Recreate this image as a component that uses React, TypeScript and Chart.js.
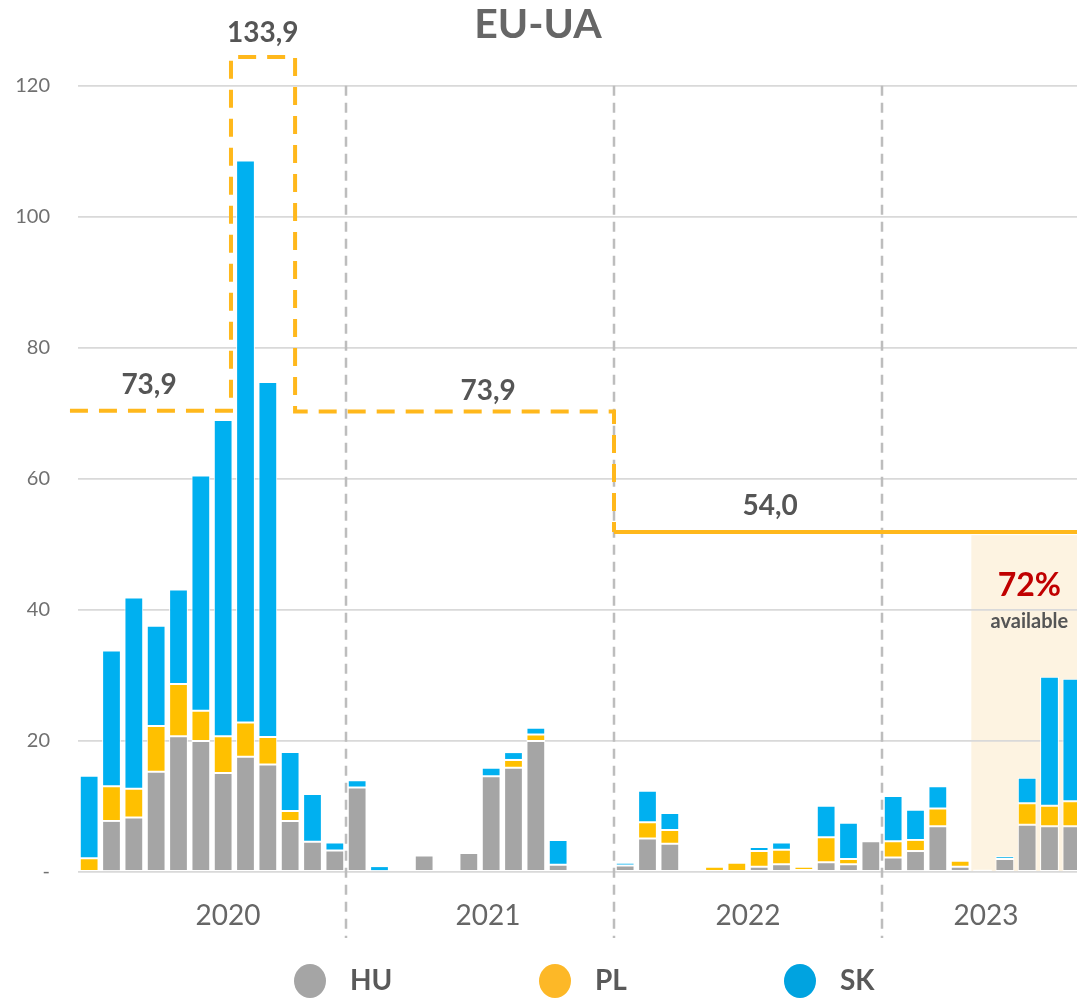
import React, { useEffect, useRef } from 'react';
import { Chart, registerables } from 'chart.js';

Chart.register(...registerables);

// ---------- data ----------
const YEARS = ['2020', '2021', '2022', '2023'];
const MONTHS_IN_YEAR = [12, 12, 12, 9];
const MONTH_NAMES = ['Jan', 'Feb', 'Mar', 'Apr', 'May', 'Jun', 'Jul', 'Aug', 'Sep', 'Oct', 'Nov', 'Dec'];

const HU = [
  0, 7.8, 8.3, 15.3, 20.7, 20.0, 15.1, 17.6, 16.4, 7.8, 4.6, 3.3,
  12.9, 0, 0.3, 2.5, 0.3, 2.9, 14.6, 15.9, 20.0, 1.1, 0.4, 0,
  1.0, 5.1, 4.3, 0, 0, 0, 0.8, 1.2, 0.3, 1.5, 1.2, 4.7,
  2.2, 3.2, 7.0, 0.8, 0.4, 2.0, 7.2, 7.0, 7.0,
];
const PL = [
  2.1, 5.3, 4.4, 7.0, 8.0, 4.6, 5.6, 5.2, 4.2, 1.5, 0, 0,
  0, 0, 0, 0, 0, 0, 0, 1.2, 1.0, 0, 0, 0.3,
  0, 2.5, 2.1, 0, 0.8, 1.4, 2.4, 2.2, 0.5, 3.8, 0.8, 0,
  2.5, 1.7, 2.7, 0.9, 0, 0, 3.3, 3.1, 3.8,
];
const SK = [
  12.6, 20.7, 29.2, 15.3, 14.4, 35.9, 48.3, 85.8, 54.2, 9.0, 7.3, 1.2,
  1.1, 0.9, 0, 0, 0, 0, 1.3, 1.2, 1.0, 3.8, 0, 0,
  0.4, 4.8, 2.6, 0, 0, 0, 0.6, 1.1, 0, 4.8, 5.5, 0,
  6.9, 4.6, 3.4, 0, 0, 0.4, 3.9, 19.7, 18.7,
];
const SERIES_NAMES = ['HU', 'PL', 'SK'];
const Y_TICKS = [0, 20, 40, 60, 80, 100, 120];

// quota limits (category index, value)
const QUOTA_DASHED = [
  [-0.86, 70.4], [6.35, 70.4], [6.35, 124.4], [9.22, 124.4],
  [9.22, 70.3], [23.5, 70.3], [23.5, 51.9],
];
const QUOTA_SOLID_START = 23.5;
const QUOTA_SOLID_VALUE = 51.9;
const QUOTA_TEXTS = ['73,9', '133,9', '73,9', '54,0'];
const AVAILABLE_PCT = '72%';
const AVAILABLE_TEXT = 'available';
const AVAILABLE_FROM = 39.5;
const TITLE = 'EU-UA';

const CATEGORIES: string[] = [];
YEARS.forEach((y, i) => {
  for (let m = 0; m < MONTHS_IN_YEAR[i]; m++) CATEGORIES.push(MONTH_NAMES[m] + ' ' + y);
});

// ---------- layout / style ----------
const COLORS = ['#a5a5a5', '#ffc000', '#00b0f0'];
const LEGEND_COLORS = ['#a5a5a5', '#fdb827', '#00a3e0'];
const QUOTA_COLOR = '#ffb81c';
const TEXT_DARK = '#555555';
const QUOTA_TEXT_POS = [[2.68, 74.3], [7.77, 128.0], [17.86, 73.4], [30.49, 55.9]];
const YEAR_LABEL_POS = [6.22, 17.86, 29.5, 40.16];
const DIVIDER_POS = [11.5, 23.5, 35.5];
const LEGEND_X = [310, 555, 800];

const overlay = {
  id: 'overlay',
  beforeDraw(chart: any) {
    const { ctx, chartArea, scales } = chart;
    const x = scales.x, y = scales.y;
    ctx.save();
    ctx.fillStyle = '#fdf3e1';
    const x0 = x.getPixelForValue(AVAILABLE_FROM);
    const yTop = y.getPixelForValue(51.4);
    ctx.fillRect(x0, yTop, chartArea.right - x0, y.getPixelForValue(0) - yTop);
    ctx.restore();
  },
  beforeDatasetsDraw(chart: any) {
    const { ctx, chartArea, scales } = chart;
    const x = scales.x, y = scales.y;
    ctx.save();
    ctx.strokeStyle = '#bdbdbd';
    ctx.lineWidth = 2.5;
    ctx.setLineDash([10, 7]);
    DIVIDER_POS.forEach((p) => {
      const px = Math.round(x.getPixelForValue(p));
      ctx.beginPath();
      ctx.moveTo(px, y.getPixelForValue(120));
      ctx.lineTo(px, chartArea.bottom + 66);
      ctx.stroke();
    });
    ctx.restore();
  },
  afterDatasetsDraw(chart: any) {
    const { ctx, chartArea, scales } = chart;
    const x = scales.x, y = scales.y;
    ctx.save();
    ctx.strokeStyle = QUOTA_COLOR;
    ctx.lineWidth = 4;
    ctx.lineJoin = 'miter';
    ctx.setLineDash([18, 11]);
    ctx.beginPath();
    QUOTA_DASHED.forEach(([cx, v], i) => {
      const px = x.getPixelForValue(cx);
      const py = y.getPixelForValue(v);
      if (i === 0) ctx.moveTo(px, py); else ctx.lineTo(px, py);
    });
    ctx.stroke();
    ctx.setLineDash([]);
    ctx.beginPath();
    const sy = y.getPixelForValue(QUOTA_SOLID_VALUE);
    ctx.moveTo(x.getPixelForValue(QUOTA_SOLID_START), sy);
    ctx.lineTo(chartArea.right, sy);
    ctx.stroke();
    ctx.restore();
  },
  afterDraw(chart: any) {
    const { ctx, chartArea, scales } = chart;
    const x = scales.x, y = scales.y;
    ctx.save();
    ctx.textAlign = 'center';
    ctx.textBaseline = 'middle';
    // title
    ctx.fillStyle = '#666666';
    ctx.font = 'bold 41px Lato';
    ctx.fillText(TITLE, 538, 25);
    // quota labels
    ctx.fillStyle = TEXT_DARK;
    ctx.font = 'bold 28px Lato';
    QUOTA_TEXTS.forEach((t, i) => {
      const [cx, v] = QUOTA_TEXT_POS[i];
      ctx.fillText(t, x.getPixelForValue(cx), y.getPixelForValue(v));
    });
    // available
    ctx.fillStyle = '#c00000';
    ctx.font = 'bold 32px Lato';
    ctx.fillText(AVAILABLE_PCT, x.getPixelForValue(42.1), y.getPixelForValue(43.7));
    ctx.fillStyle = TEXT_DARK;
    ctx.font = 'bold 20px Lato';
    ctx.fillText(AVAILABLE_TEXT, x.getPixelForValue(42.1), y.getPixelForValue(38.2));
    // year labels
    ctx.fillStyle = '#666666';
    ctx.font = '28px Lato';
    YEARS.forEach((yr, i) => {
      ctx.fillText(yr, x.getPixelForValue(YEAR_LABEL_POS[i]), chartArea.bottom + 44);
    });
    // legend
    SERIES_NAMES.forEach((name, i) => {
      const cx = LEGEND_X[i];
      const cy = 981;
      ctx.fillStyle = LEGEND_COLORS[i];
      ctx.beginPath();
      ctx.ellipse(cx, cy, 16, 17, 0, 0, Math.PI * 2);
      ctx.fill();
      ctx.fillStyle = '#595959';
      ctx.font = 'bold 28px Lato';
      ctx.textAlign = 'left';
      ctx.fillText(name, cx + 40, cy);
      ctx.textAlign = 'center';
    });
    ctx.restore();
  },
};

export default function App() {
  const ref = useRef<HTMLCanvasElement>(null);
  useEffect(() => {
    if (!ref.current) return;
    const chart = new Chart(ref.current, {
      type: 'bar',
      data: {
        labels: CATEGORIES,
        datasets: [HU, PL, SK].map((d, i) => ({
          label: SERIES_NAMES[i],
          data: d,
          backgroundColor: COLORS[i],
          borderColor: '#ffffff',
          borderWidth: 1,
          borderSkipped: false,
          stack: 's',
          categoryPercentage: 1,
          barPercentage: 0.84,
        })),
      },
      options: {
        responsive: false,
        animation: false,
        devicePixelRatio: 1,
        layout: { padding: { left: 0, right: 17, top: 53, bottom: 0 } },
        plugins: {
          legend: { display: false },
          tooltip: { enabled: false },
          title: { display: false },
        },
        scales: {
          x: {
            stacked: true,
            offset: true,
            grid: { display: false },
            border: { display: false },
            ticks: { display: false },
            afterFit: (s: any) => { s.height = 127; },
          },
          y: {
            stacked: true,
            min: 0,
            max: 125,
            grid: { color: '#d9d9d9', lineWidth: 1.8, drawTicks: false },
            border: { display: false },
            ticks: {
              padding: 28,
              color: '#707070',
              font: { family: 'Lato', size: 20 },
              callback: (v: any) => (v === 0 ? '-' : String(v)),
            },
            afterBuildTicks: (s: any) => { s.ticks = Y_TICKS.map((v) => ({ value: v })); },
            afterFit: (s: any) => { s.width = 78; },
          },
        },
      },
      plugins: [overlay],
    } as any);
    return () => chart.destroy();
  }, []);

  return (
    <div style={{ position: 'fixed', left: 0, top: 0, width: 1077, height: 999, overflow: 'hidden', background: '#ffffff' }}>
      <canvas ref={ref} width={1100} height={999} style={{ display: 'block' }} />
    </div>
  );
}
